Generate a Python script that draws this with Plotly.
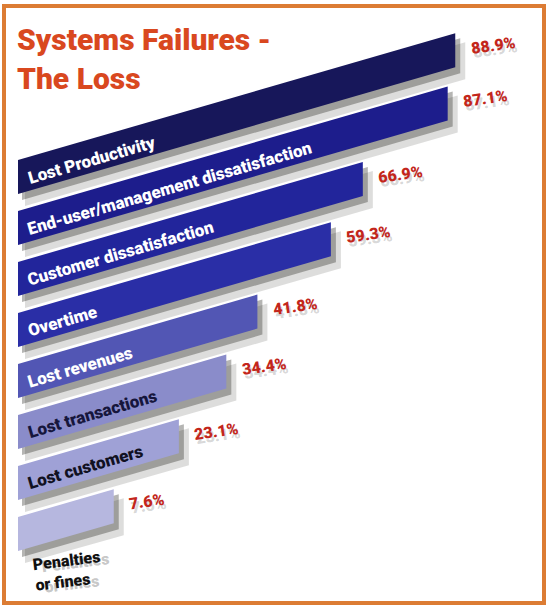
import math
import plotly.graph_objects as go

# ---------------- data ----------------
categories = [
    "Lost Productivity",
    "End-user/management dissatisfaction",
    "Customer dissatisfaction",
    "Overtime",
    "Lost revenues",
    "Lost transactions",
    "Lost customers",
    "Penalties<br>or fines",
]
values = [88.9, 87.1, 66.9, 59.3, 41.8, 34.4, 23.1, 7.6]
title_lines = ["Systems Failures -", "The Loss"]

# ---------------- style ----------------
W, H = 549, 607
FONT = "Roboto, 'Liberation Sans', sans-serif"
bar_colors = ["#17175a", "#1d1d8c", "#22259b", "#2a2ea6", "#5256b4", "#8a8cca", "#9fa1d6", "#b6b7df"]
label_colors = ["white", "white", "white", "white", "white", "#16163c", "#111122", "#111111"]
value_color = "#c3261b"
title_color = "#d9481f"
frame_color = "#dc7c34"

PX_PER_UNIT = 4.2          # horizontal scale (px per %)
BASE = -15.2               # bars start here (value units)
LEFT_PX = 18               # pixel position of BASE
SLOPE = 0.29               # slant of the bars (px up per px right)
ROW0 = 160                 # top-left y of first bar (px)
ROW_STEP = 51              # row step (px)
BAR_H = 34                 # vertical bar thickness (px)

x_min = BASE - LEFT_PX / PX_PER_UNIT
x_max = x_min + W / PX_PER_UNIT
S = SLOPE * PX_PER_UNIT    # y-units per value unit
ANGLE = -math.degrees(math.atan(SLOPE))
px = 1.0 / PX_PER_UNIT     # one pixel in x units

fig = go.Figure()


def bar_poly(v, i, dx=0.0, dy=0.0, grow=0.0):
    yt = ROW0 + ROW_STEP * i
    x0, x1 = BASE + dx, v + dx
    rise = S * (v - BASE)
    xs = [x0, x1 + grow * px, x1 + grow * px, x0, x0]
    ys = [yt + dy, yt - rise + dy, yt + BAR_H - rise + dy + grow, yt + BAR_H + dy + grow, yt + dy]
    return xs, ys


# shadows
for i, v in enumerate(values):
    for (dx, dy, g, a) in [(7, 9, 3, 0.15), (4, 5, 1, 0.32)]:
        xs, ys = bar_poly(v, i, dx * px, dy, g)
        fig.add_trace(go.Scatter(x=xs, y=ys, fill="toself", mode="lines",
                                 line=dict(width=0), fillcolor=f"rgba(25,25,20,{a})",
                                 hoverinfo="skip", showlegend=False))

# bars
for i, v in enumerate(values):
    xs, ys = bar_poly(v, i)
    fig.add_trace(go.Scatter(x=xs, y=ys, fill="toself", mode="lines",
                             line=dict(width=0), fillcolor=bar_colors[i],
                             hoverinfo="skip", showlegend=False, name=categories[i]))

annotations = []

# category labels along the bars (anchored at their lower-left corner)
for i, (cat, v) in enumerate(zip(categories, values)):
    yt = ROW0 + ROW_STEP * i
    if i < len(values) - 1:
        annotations.append(dict(x=BASE + 5 * px, y=yt + BAR_H - 4, xref="x", yref="y",
                                text=cat, showarrow=False,
                                textangle=ANGLE, xanchor="left", yanchor="bottom",
                                font=dict(family=FONT, size=17, color=label_colors[i], weight=900)))
    else:
        cx = BASE + 12 * px
        cy = yt + BAR_H - 6
        for (ddx, ddy, col) in [(9, 2, "rgba(110,110,110,0.4)"), (0, 0, label_colors[i])]:
            annotations.append(dict(x=cx + ddx * px, y=cy + ddy, xref="x", yref="y", text=cat,
                                    showarrow=False, textangle=-7, xanchor="left", yanchor="top",
                                    align="left",
                                    font=dict(family=FONT, size=16, color=col, weight=900)))

# value labels
for i, v in enumerate(values):
    yt = ROW0 + ROW_STEP * i
    ytop = yt - S * (v - BASE)
    lx = v + 12 * px
    ly = ytop + 12
    txt = f"{v:.1f}%"
    for (ddx, ddy, col) in [(2, 4, "rgba(120,120,120,0.3)"), (0, 0, value_color)]:
        annotations.append(dict(x=lx + ddx * px, y=ly + ddy, xref="x", yref="y", text=txt,
                                showarrow=False, textangle=-8, xanchor="left", yanchor="middle",
                                font=dict(family=FONT, size=16, color=col, weight=900)))

# title
annotations.append(dict(x=15 / W, y=1 - 20 / H, xref="paper", yref="paper",
                        text="<br>".join(title_lines), showarrow=False,
                        xanchor="left", yanchor="top", align="left",
                        font=dict(family=FONT, size=30, color=title_color, weight=900)))

fig.update_layout(
    width=W, height=H,
    margin=dict(l=0, r=0, t=0, b=0),
    paper_bgcolor="white", plot_bgcolor="white",
    xaxis=dict(range=[x_min, x_max], visible=False, fixedrange=True),
    yaxis=dict(range=[H, 0], visible=False, fixedrange=True),
    annotations=annotations,
    shapes=[dict(type="rect", xref="paper", yref="paper",
                 x0=4 / W, x1=544 / W, y0=1 - 603 / H, y1=1 - 6 / H,
                 line=dict(color=frame_color, width=4), fillcolor="rgba(0,0,0,0)")],
    showlegend=False,
)

fig.write_html("out.html", config={"displayModeBar": False})
